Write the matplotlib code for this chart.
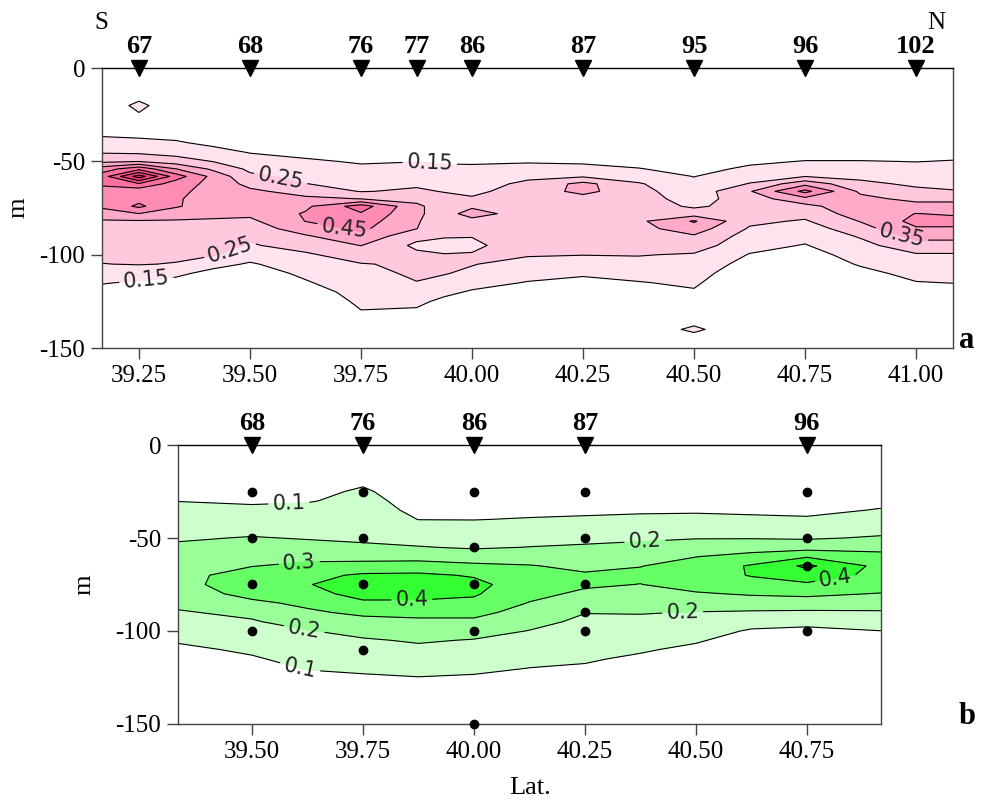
import numpy as np
import matplotlib
matplotlib.use("Agg")
import matplotlib.pyplot as plt

# ---- panel a : section along the transect (pink) ----
lat_a = [39.1667, 39.25, 39.333, 39.417, 39.5, 39.625, 39.75, 39.875, 39.9375,
         40.0, 40.125, 40.25, 40.375, 40.5, 40.625, 40.75, 40.875, 41.0, 41.0833]
depth_a = [0, -10, -20, -30, -35, -40, -45, -50, -54, -58, -62, -66, -70, -74, -78,
           -82, -86, -90, -95, -100, -105, -110, -115, -120, -125, -130, -135, -140, -145, -150]
# one profile (top -> bottom) per latitude
profiles_a = [
    [0.02, 0.04, 0.07, 0.10, 0.135, 0.18, 0.24, 0.33, 0.50, 0.60, 0.57, 0.50, 0.48, 0.47, 0.40,
     0.34, 0.32, 0.30, 0.28, 0.27, 0.248, 0.20, 0.155, 0.12, 0.10, 0.08, 0.07, 0.06, 0.05, 0.04],
    [0.02, 0.05, 0.18, 0.10, 0.13, 0.17, 0.23, 0.35, 0.62, 0.90, 0.64, 0.48, 0.52, 0.57, 0.448,
     0.34, 0.32, 0.31, 0.29, 0.27, 0.255, 0.19, 0.14, 0.11, 0.09, 0.08, 0.07, 0.06, 0.05, 0.04],
    [0.02, 0.03, 0.07, 0.09, 0.12, 0.16, 0.21, 0.30, 0.452, 0.60, 0.50, 0.47, 0.46, 0.46, 0.40,
     0.34, 0.32, 0.30, 0.28, 0.27, 0.245, 0.17, 0.12, 0.10, 0.08, 0.07, 0.06, 0.05, 0.04, 0.03],
    [0.02, 0.03, 0.05, 0.07, 0.10, 0.13, 0.18, 0.248, 0.33, 0.42, 0.42, 0.42, 0.41, 0.40, 0.37,
     0.34, 0.32, 0.31, 0.29, 0.26, 0.18, 0.12, 0.09, 0.07, 0.06, 0.05, 0.04, 0.04, 0.03, 0.03],
    [0.02, 0.02, 0.03, 0.05, 0.08, 0.11, 0.145, 0.19, 0.23, 0.27, 0.32, 0.37, 0.39, 0.39, 0.37,
     0.33, 0.30, 0.27, 0.24, 0.19, 0.14, 0.10, 0.07, 0.05, 0.04, 0.03, 0.03, 0.03, 0.02, 0.02],
    [0.02, 0.02, 0.03, 0.04, 0.05, 0.08, 0.12, 0.165, 0.19, 0.22, 0.252, 0.31, 0.37, 0.43, 0.46,
     0.452, 0.40, 0.34, 0.29, 0.235, 0.20, 0.17, 0.14, 0.10, 0.07, 0.05, 0.04, 0.03, 0.03, 0.02],
    [0.02, 0.02, 0.03, 0.04, 0.05, 0.07, 0.10, 0.14, 0.17, 0.195, 0.22, 0.245, 0.348, 0.60, 0.54,
     0.50, 0.47, 0.42, 0.352, 0.30, 0.245, 0.23, 0.21, 0.19, 0.17, 0.148, 0.11, 0.08, 0.05, 0.03],
    [0.02, 0.02, 0.03, 0.04, 0.05, 0.06, 0.09, 0.148, 0.18, 0.205, 0.235, 0.265, 0.32, 0.37, 0.37,
     0.36, 0.352, 0.28, 0.23, 0.27, 0.265, 0.26, 0.248, 0.21, 0.17, 0.14, 0.10, 0.07, 0.04, 0.03],
    [0.02, 0.02, 0.03, 0.04, 0.05, 0.06, 0.09, 0.14, 0.17, 0.195, 0.215, 0.245, 0.28, 0.30, 0.30,
     0.29, 0.28, 0.26, 0.21, 0.255, 0.26, 0.255, 0.22, 0.17, 0.13, 0.10, 0.07, 0.05, 0.04, 0.03],
    [0.02, 0.02, 0.03, 0.04, 0.05, 0.06, 0.09, 0.14, 0.165, 0.19, 0.21, 0.23, 0.26, 0.33, 0.40,
     0.31, 0.28, 0.255, 0.22, 0.26, 0.255, 0.23, 0.18, 0.14, 0.10, 0.08, 0.06, 0.05, 0.04, 0.03],
    [0.02, 0.02, 0.03, 0.04, 0.05, 0.06, 0.09, 0.14, 0.19, 0.23, 0.27, 0.29, 0.30, 0.30, 0.29,
     0.30, 0.30, 0.30, 0.33, 0.26, 0.21, 0.18, 0.145, 0.11, 0.08, 0.06, 0.05, 0.04, 0.03, 0.03],
    [0.02, 0.02, 0.03, 0.03, 0.04, 0.05, 0.08, 0.13, 0.19, 0.24, 0.38, 0.38, 0.31, 0.30, 0.30,
     0.30, 0.30, 0.30, 0.29, 0.252, 0.21, 0.165, 0.12, 0.09, 0.07, 0.05, 0.04, 0.04, 0.03, 0.03],
    [0.02, 0.02, 0.03, 0.03, 0.04, 0.04, 0.07, 0.115, 0.155, 0.20, 0.26, 0.28, 0.29, 0.30, 0.31,
     0.33, 0.32, 0.31, 0.29, 0.255, 0.22, 0.18, 0.145, 0.11, 0.08, 0.06, 0.05, 0.05, 0.04, 0.03],
    [0.02, 0.02, 0.02, 0.02, 0.02, 0.02, 0.04, 0.08, 0.115, 0.148, 0.17, 0.19, 0.21, 0.235, 0.30,
     0.46, 0.40, 0.34, 0.30, 0.24, 0.22, 0.19, 0.165, 0.14, 0.11, 0.09, 0.10, 0.18, 0.09, 0.05],
    [0.02, 0.02, 0.03, 0.03, 0.04, 0.04, 0.08, 0.13, 0.17, 0.21, 0.255, 0.34, 0.30, 0.29, 0.29,
     0.27, 0.24, 0.21, 0.18, 0.145, 0.11, 0.08, 0.06, 0.05, 0.04, 0.03, 0.03, 0.03, 0.02, 0.02],
    [0.02, 0.02, 0.02, 0.03, 0.05, 0.07, 0.10, 0.155, 0.20, 0.248, 0.42, 0.58, 0.42, 0.32, 0.28,
     0.24, 0.20, 0.175, 0.145, 0.11, 0.08, 0.06, 0.05, 0.04, 0.03, 0.03, 0.02, 0.02, 0.02, 0.02],
    [0.02, 0.02, 0.03, 0.03, 0.05, 0.07, 0.10, 0.155, 0.19, 0.23, 0.27, 0.33, 0.38, 0.42, 0.40,
     0.355, 0.31, 0.26, 0.22, 0.19, 0.16, 0.12, 0.09, 0.07, 0.05, 0.04, 0.03, 0.03, 0.02, 0.02],
    [0.02, 0.02, 0.03, 0.03, 0.05, 0.08, 0.11, 0.148, 0.18, 0.21, 0.235, 0.27, 0.32, 0.39, 0.452,
     0.48, 0.44, 0.38, 0.31, 0.24, 0.21, 0.18, 0.145, 0.11, 0.08, 0.06, 0.04, 0.03, 0.03, 0.02],
    [0.02, 0.02, 0.03, 0.03, 0.05, 0.08, 0.12, 0.155, 0.18, 0.205, 0.23, 0.255, 0.32, 0.39, 0.44,
     0.48, 0.44, 0.38, 0.31, 0.24, 0.21, 0.18, 0.152, 0.11, 0.08, 0.06, 0.04, 0.03, 0.03, 0.02],
]
levels_a = [0.15, 0.25, 0.35, 0.45, 0.55, 0.65, 0.75, 0.85, 1.0]
colors_a = ['#ffe3ee', '#ffc8dc', '#ffaac8', '#ff8cb4', '#ff70a0', '#fa548e', '#f33c7e', '#ec1f6c']
stations_a = ['67', '68', '76', '77', '86', '87', '95', '96', '102']
st_lat_a = [39.25, 39.5, 39.75, 39.875, 40.0, 40.25, 40.5, 40.75, 41.0]

# ---- panel b : sampled stations (green) ----
lat_b = [39.3333, 39.5, 39.625, 39.75, 39.875, 40.0, 40.125, 40.25, 40.375, 40.5, 40.625, 40.75, 40.9167]
depth_b = [0, -10, -20, -25, -30, -35, -40, -45, -50, -55, -60, -65, -70, -75, -80, -85, -90,
           -95, -100, -105, -110, -115, -120, -125, -130, -140, -150]
profiles_b = [
    [0.0, 0.02, 0.05, 0.075, 0.098, 0.125, 0.15, 0.17, 0.19, 0.215, 0.24, 0.26, 0.27, 0.265,
     0.25, 0.225, 0.19, 0.165, 0.14, 0.11, 0.08, 0.06, 0.05, 0.04, 0.03, 0.02, 0.01],
    [0.0, 0.02, 0.05, 0.07, 0.09, 0.115, 0.145, 0.175, 0.205, 0.23, 0.26, 0.297, 0.34, 0.36,
     0.33, 0.28, 0.225, 0.19, 0.165, 0.14, 0.115, 0.09, 0.07, 0.05, 0.04, 0.02, 0.01],
    [0.0, 0.02, 0.05, 0.08, 0.095, 0.12, 0.145, 0.17, 0.195, 0.225, 0.275, 0.32, 0.37, 0.395,
     0.37, 0.32, 0.285, 0.245, 0.195, 0.17, 0.15, 0.13, 0.105, 0.08, 0.06, 0.03, 0.01],
    [0.0, 0.02, 0.09, 0.11, 0.12, 0.13, 0.145, 0.16, 0.18, 0.22, 0.27, 0.33, 0.415, 0.45,
     0.43, 0.385, 0.32, 0.27, 0.23, 0.19, 0.165, 0.14, 0.115, 0.09, 0.07, 0.04, 0.02],
    [0.0, 0.01, 0.03, 0.06, 0.075, 0.085, 0.099, 0.13, 0.165, 0.205, 0.27, 0.335, 0.42, 0.46,
     0.44, 0.38, 0.33, 0.28, 0.245, 0.21, 0.18, 0.15, 0.125, 0.098, 0.075, 0.04, 0.02],
    [0.0, 0.01, 0.03, 0.045, 0.06, 0.08, 0.098, 0.13, 0.16, 0.19, 0.25, 0.32, 0.39, 0.43,
     0.41, 0.38, 0.33, 0.28, 0.235, 0.195, 0.17, 0.145, 0.12, 0.09, 0.07, 0.04, 0.02],
    [0.0, 0.01, 0.03, 0.045, 0.06, 0.08, 0.105, 0.14, 0.17, 0.202, 0.255, 0.305, 0.33, 0.34,
     0.33, 0.295, 0.26, 0.23, 0.197, 0.17, 0.145, 0.12, 0.099, 0.08, 0.06, 0.03, 0.01],
    [0.0, 0.01, 0.03, 0.05, 0.065, 0.085, 0.11, 0.15, 0.18, 0.21, 0.245, 0.28, 0.31, 0.315,
     0.28, 0.24, 0.203, 0.18, 0.16, 0.145, 0.125, 0.11, 0.09, 0.07, 0.05, 0.03, 0.01],
    [0.0, 0.01, 0.03, 0.05, 0.07, 0.09, 0.115, 0.15, 0.185, 0.225, 0.26, 0.297, 0.32, 0.298,
     0.27, 0.24, 0.205, 0.18, 0.155, 0.13, 0.11, 0.085, 0.07, 0.05, 0.04, 0.02, 0.01],
    [0.0, 0.01, 0.03, 0.05, 0.07, 0.09, 0.12, 0.16, 0.195, 0.25, 0.298, 0.34, 0.36, 0.34,
     0.29, 0.245, 0.197, 0.17, 0.14, 0.11, 0.08, 0.06, 0.04, 0.03, 0.02, 0.01, 0.01],
    [0.0, 0.01, 0.03, 0.05, 0.07, 0.085, 0.115, 0.155, 0.195, 0.26, 0.33, 0.41, 0.405, 0.37,
     0.31, 0.25, 0.19, 0.135, 0.09, 0.06, 0.04, 0.03, 0.02, 0.02, 0.01, 0.01, 0.0],
    [0.0, 0.01, 0.03, 0.05, 0.065, 0.08, 0.11, 0.15, 0.19, 0.26, 0.39, 0.52, 0.455, 0.385,
     0.32, 0.255, 0.185, 0.125, 0.08, 0.05, 0.04, 0.03, 0.02, 0.02, 0.01, 0.01, 0.0],
    [0.0, 0.02, 0.04, 0.06, 0.08, 0.105, 0.135, 0.17, 0.21, 0.27, 0.33, 0.37, 0.37, 0.35,
     0.295, 0.245, 0.19, 0.145, 0.099, 0.07, 0.05, 0.04, 0.03, 0.02, 0.02, 0.01, 0.0],
]
levels_b = [0.1, 0.2, 0.3, 0.4, 0.5, 1.0]
colors_b = ['#ccffcc', '#99ff99', '#66ff66', '#33ff33', '#11ee11']
stations_b = ['68', '76', '86', '87', '96']
st_lat_b = [39.5, 39.75, 40.0, 40.25, 40.75]
samp_lat = [39.5, 39.5, 39.5, 39.5, 39.75, 39.75, 39.75, 39.75,
            40.0, 40.0, 40.0, 40.0, 40.0, 40.25, 40.25, 40.25, 40.25, 40.25,
            40.75, 40.75, 40.75, 40.75]
samp_depth = [-25, -50, -75, -100, -25, -50, -75, -110,
              -25, -55, -75, -100, -150, -25, -50, -75, -90, -100,
              -25, -50, -65, -100]

plt.rcParams['font.family'] = ['Liberation Serif', 'DejaVu Serif']
plt.rcParams['axes.unicode_minus'] = False

fig = plt.figure(figsize=(9.81, 8.02), dpi=100)
ax_a = fig.add_axes([0.104, 0.566, 0.8675, 0.349])
ax_b = fig.add_axes([0.1814, 0.0973, 0.7166, 0.3478])


def draw_panel(ax, lat, depth, profiles, levels, colors, label_pos, xlim, xticks):
    z = np.array(profiles).T
    ax.contourf(lat, depth, z, levels=levels, colors=colors)
    cs = ax.contour(lat, depth, z, levels=levels[:-1], colors='k', linewidths=0.8)
    with plt.rc_context({'font.family': 'DejaVu Sans'}):
        txt = ax.clabel(cs, fmt='%g', manual=label_pos, inline=True, inline_spacing=4,
                        fontsize=15)
    for t in txt:
        t.set_color('#222222')
    ax.set_xlim(*xlim)
    ax.set_ylim(-150, 0)
    ax.set_xticks(xticks)
    ax.set_xticklabels(['%.2f' % v for v in xticks])
    ax.set_yticks([0, -50, -100, -150])
    ax.tick_params(direction='out', length=8, width=1, labelsize=18, pad=4,
                   color='#444444')
    for s in ax.spines.values():
        s.set_color('#444444')
        s.set_linewidth(1)
    ax.spines['top'].set_color('black')


def draw_stations(ax, lats, names):
    ax.plot(lats, [0] * len(lats), 'v', color='black', ms=12, clip_on=False, zorder=10)
    for x, n in zip(lats, names):
        ax.annotate(n, (x, 0), xytext=(0, 11), textcoords='offset points',
                    ha='center', va='baseline', fontsize=19, fontweight='bold')


pos_a = [(39.905, -50), (39.57, -58), (39.714, -83), (39.45, -94), (39.266, -112), (40.97, -88)]
draw_panel(ax_a, lat_a, depth_a, profiles_a, levels_a, colors_a, pos_a,
           (39.1667, 41.0833), [39.25, 39.5, 39.75, 40.0, 40.25, 40.5, 40.75, 41.0])
draw_stations(ax_a, st_lat_a, stations_a)
ax_a.set_ylabel('m', fontsize=19)
ax_a.yaxis.set_label_coords(-0.085, 0.5)
ax_a.text(-0.009, 1.16, 'S', transform=ax_a.transAxes, ha='left', va='center', fontsize=18)
ax_a.text(0.98, 1.16, 'N', transform=ax_a.transAxes, ha='center', va='center', fontsize=18)
ax_a.text(1.0165, 0.0, 'a', transform=ax_a.transAxes, ha='center', va='baseline',
          fontsize=22, fontweight='bold')

pos_b = [(39.583, -31), (39.606, -62), (39.86, -82), (39.62, -96), (39.608, -120),
         (40.385, -51), (40.47, -90), (40.813, -70)]
draw_panel(ax_b, lat_b, depth_b, profiles_b, levels_b, colors_b, pos_b,
           (39.3333, 40.9167), [39.5, 39.75, 40.0, 40.25, 40.5, 40.75])
ax_b.plot(samp_lat, samp_depth, 'o', color='black', ms=6, clip_on=False, zorder=9)
draw_stations(ax_b, st_lat_b, stations_b)
ax_b.set_ylabel('m', fontsize=19)
ax_b.yaxis.set_label_coords(-0.118, 0.5)
ax_b.text(1.122, 0.0, 'b', transform=ax_b.transAxes, ha='center', va='baseline',
          fontsize=22, fontweight='bold')
fig.text(530 / 981, 1 - 788 / 802, 'Lat.', ha='center', va='center', fontsize=19)

fig.savefig('out.png', dpi=100)
